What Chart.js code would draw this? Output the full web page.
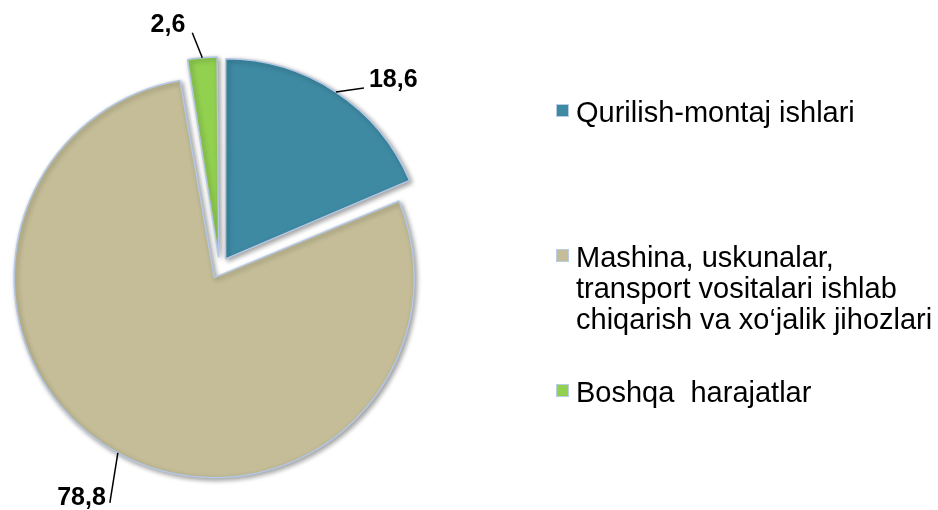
<!DOCTYPE html>
<html>
<head>
<meta charset="utf-8">
<script src="https://cdn.jsdelivr.net/npm/chart.js@4/dist/chart.umd.min.js"></script>
<style>
  html, body { margin: 0; padding: 0; background: #ffffff; }
  #wrap { position: relative; width: 938px; height: 510px; overflow: hidden; }
  #c { position: absolute; left: 0; top: 0; }
  .leg { position: absolute; left: 556px; font-family: "Liberation Sans", Arial, sans-serif; font-size: 29px; line-height: 31px; color: #000; white-space: nowrap; }
  .leg .sw { position: absolute; left: 0; width: 11px; height: 11px; border: 1px solid #b9cde5; }
  .leg .tx { position: absolute; left: 20px; top: 0; }
</style>
</head>
<body>
<div id="wrap">
  <canvas id="c" width="938" height="510"></canvas>
</div>
<script>
// ---- data ----
const categories = [
  "Qurilish-montaj ishlari",
  "Mashina, uskunalar,\ntransport vositalari ishlab\nchiqarish va xo\u2018jalik jihozlari",
  "Boshqa  harajatlar"
];
const values = [18.6, 78.8, 2.6];
const valueLabels = ["18,6", "78,8", "2,6"];
const colors = ["#3e8aa3", "#c4bd97", "#92d050"];

// ---- style / layout constants ----
const R = 200;          // outer radius of slices
const EXPLODE = 11;     // pixels each slice is pulled out
const legendTops = [97, 242, 377];
// leader line vectors (from slice edge) and text offsets (from leader end)
const leader = [
  { dx: 28, dy: -4, tx: 5, ty: -8, align: "left" },
  { dx: -8, dy: 50, tx: -4, ty: -5, align: "right" },
  { dx: -10, dy: -25, tx: -7, ty: -8, align: "right" }
];

// legend (HTML text)
const wrap = document.getElementById("wrap");
categories.forEach((cat, i) => {
  const d = document.createElement("div");
  d.className = "leg";
  d.style.top = legendTops[i] + "px";
  const sw = document.createElement("div");
  sw.className = "sw";
  sw.style.background = colors[i];
  sw.style.top = "7px";
  const tx = document.createElement("div");
  tx.className = "tx";
  tx.innerHTML = cat.split("\n").map(s => s.replace(/&/g, "&amp;").replace(/</g, "&lt;").replace(/ /g, "&nbsp;")).join("<br>");
  d.appendChild(sw);
  d.appendChild(tx);
  wrap.appendChild(d);
});

const shapePlugin = {
  id: "shape",
  beforeDatasetsDraw(chart) {
    const meta = chart.getDatasetMeta(0);
    meta.data.forEach(arc => {
      const off = (arc.options.offset || 0) / 4;
      const circ = arc.endAngle - arc.startAngle;
      const fix = 1 - Math.sin(Math.min(Math.PI, circ));
      arc.outerRadius = R - off * fix;
    });
    const ctx = chart.ctx;
    ctx.save();
    ctx.shadowColor = "rgba(0,0,0,0.38)";
    ctx.shadowBlur = 5;
    ctx.shadowOffsetX = 2;
    ctx.shadowOffsetY = 2;
  },
  afterDatasetsDraw(chart) {
    const ctx = chart.ctx;
    ctx.restore();
    const meta = chart.getDatasetMeta(0);
    ctx.save();
    meta.data.forEach((arc, i) => {
      const off = (arc.options.offset || 0) / 4;
      const mid = (arc.startAngle + arc.endAngle) / 2;
      const ex = arc.x + Math.cos(mid) * (off + R);
      const ey = arc.y + Math.sin(mid) * (off + R);
      const L = leader[i];
      const lx = ex + L.dx, ly = ey + L.dy;
      ctx.strokeStyle = "#000";
      ctx.lineWidth = 1.5;
      ctx.beginPath();
      ctx.moveTo(ex, ey);
      ctx.lineTo(lx, ly);
      ctx.stroke();
      ctx.fillStyle = "#000";
      ctx.font = "bold 25px 'Liberation Sans', Arial, sans-serif";
      ctx.textAlign = L.align;
      ctx.textBaseline = "middle";
      ctx.fillText(valueLabels[i], lx + L.tx, ly + L.ty);
    });
    ctx.restore();
  }
};

new Chart(document.getElementById("c"), {
  type: "pie",
  data: {
    labels: categories,
    datasets: [{
      data: values,
      backgroundColor: colors,
      borderColor: "#b4c8e6",
      borderWidth: 1.5,
      offset: EXPLODE * 4,
      hoverOffset: EXPLODE * 4
    }]
  },
  options: {
    responsive: false,
    animation: false,
    events: [],
    radius: R,
    layout: { padding: { left: 0, right: 499, top: 50, bottom: 24 } },
    plugins: {
      legend: { display: false },
      tooltip: { enabled: false }
    }
  },
  plugins: [shapePlugin]
});
</script>
</body>
</html>
